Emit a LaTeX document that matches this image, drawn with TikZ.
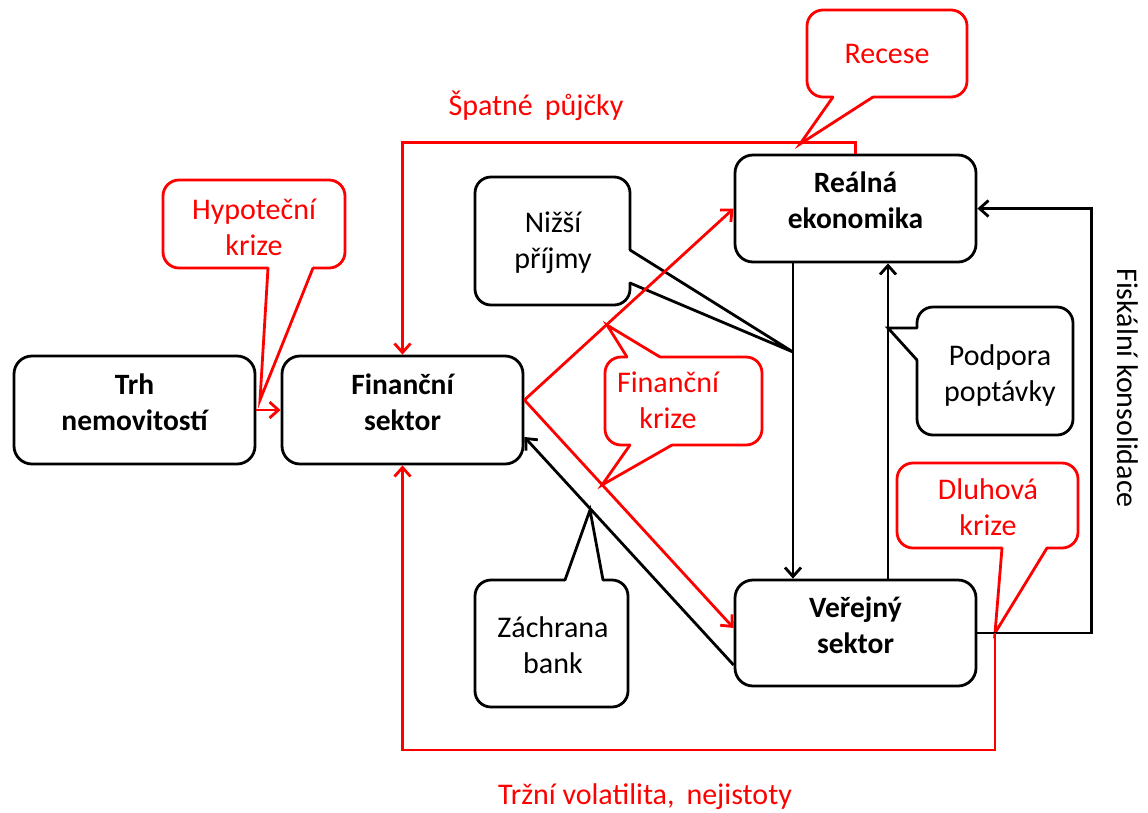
\documentclass[tikz,border=0pt]{standalone}
\usepackage{fontspec}
\setmainfont{Carlito}
\usetikzlibrary{arrows.meta,calc}
\definecolor{cred}{RGB}{255,0,0}
\tikzset{
  mainbox/.style={draw=black, line width=2.8pt, rounded corners=18pt, fill=white,
    minimum width=241pt, minimum height=108pt, inner sep=0pt},
  maintext/.style={align=center, font=\fontsize{29.5}{36}\selectfont\bfseries, inner sep=0pt},
  cotext/.style={align=center, font=\fontsize{30}{36}\selectfont, inner sep=0pt},
  redco/.style={draw=cred, line width=2.8pt, rounded corners=16pt, fill=white},
  blkco/.style={draw=black, line width=2.8pt, rounded corners=16pt, fill=white},
  redline/.style={draw=cred, line width=2.8pt},
  blkline/.style={draw=black, line width=2.8pt},
  arr/.style={-{Straight Barb[length=9pt,width=16pt,line width=2.8pt]}},
}
\newcommand{\coptr}[4]{%
  \fill[white] #2 -- #3 -- #4 -- cycle;
  \draw[white, line width=5pt] #2 -- #4;
  \draw[#1, line width=2.8pt, line cap=round, line join=miter] #2 -- #3 -- #4;}
\begin{document}
\begin{tikzpicture}[x=1pt,y=-1pt]
\useasboundingbox (0,0) rectangle (1148,812);

% ---- callouts ----
% Recese
\draw[redco] (807,10) rectangle (967,97);
\coptr{cred}{(833,97)}{(800,144)}{(873,97)}
\node[cotext, text=cred] (recese) at (887,54) {Recese};
% Hypotecni krize
\draw[redco] (163,180) rectangle (345,268);
\coptr{cred}{(268,268)}{(260,400)}{(313,268)}
\node[cotext, text=cred] (hypo) at (254,227) {Hypoteční\\krize};
% Nizsi prijmy
\draw[blkco] (475,177) rectangle (630,305);
\coptr{black}{(630,250)}{(793,352)}{(630,283)}
\node[cotext] (nizsi) at (553,243) {Nižší\\příjmy};
% Financni krize
\draw[redco] (605,357) rectangle (762,445);
\coptr{cred}{(627,357)}{(607,325)}{(660,357)}
\coptr{cred}{(630,445)}{(602,485)}{(672,445)}
\node[cotext, text=cred] (fkrize) at (668,400) {Finanční\\krize};
% Podpora poptavky
\draw[blkco] (917,307) rectangle (1073,435);
\coptr{black}{(917,328)}{(888,328)}{(917,360)}
\node[cotext] (podpora) at (1000,375) {Podpora\\poptávky};
% Dluhova krize
\draw[redco] (897,463) rectangle (1078,548);
\coptr{cred}{(1002,548)}{(995,633)}{(1047,548)}
\node[cotext, text=cred] (dluh) at (988,507) {Dluhová\\krize};
% Zachrana bank
\draw[blkco] (475,580) rectangle (628,707);
\coptr{black}{(565,580)}{(590,510)}{(603,580)}
\node[cotext] (zachrana) at (553,645) {Záchrana\\bank};

% ---- main boxes ----
\node[mainbox] (trh) at (134.5,410) {};
\node[maintext] (trht) at ([yshift=8pt]trh.center) {Trh\\nemovitostí};
\node[mainbox] (fin) at (402.5,410) {};
\node[maintext] (fint) at ([yshift=8pt]fin.center) {Finanční\\sektor};
\node[mainbox, minimum height=107pt] (real) at (855.5,208.5) {};
\node[maintext] (realt) at ([yshift=8pt]real.center) {Reálná\\ekonomika};
\node[mainbox, minimum height=106pt] (ver) at (855.5,633) {};
\node[maintext] (vert) at ([yshift=8pt]ver.center) {Veřejný\\sektor};

% ---- connectors ----
\coordinate (dk) at (995,633);
\draw[redline, arr] (trh.east) -- (fin.west);
\draw[redline, arr, line join=miter] (real.north) -- ++(0,-11) -| (fin.north);
\draw[redline, arr] ([yshift=10pt]fin.east) -- (real.west);
\draw[redline, arr] ([yshift=10pt]fin.east) -- ([yshift=5pt]ver.west);
\draw[blkline, arr] ([yshift=-32pt]ver.west) -- ([yshift=-27pt]fin.east);
\draw[blkline, arr] ([xshift=-62.5pt]real.south) -- ([xshift=-62.5pt]ver.north);
\draw[blkline, arr] ([xshift=32.5pt]ver.north) -- ([xshift=32.5pt]real.south);
\draw[blkline, arr, line join=miter] (ver.east) -- ++(114,0) |- (real.east);
\draw[redline, arr, line join=miter] (dk) -- (995,750) -| (fin.south);

% ---- labels ----
\node[cotext, text=cred] (spatne) at (536,106) {Špatné\hspace{0.4em}půjčky};
\node[cotext, text=cred] (trzni) at (645,797) {Tržní volatilita,\hspace{0.4em}nejistoty};
\node[cotext, rotate=-90] (fisk) at (1128,388) {Fiskální konsolidace};
\end{tikzpicture}
\end{document}
